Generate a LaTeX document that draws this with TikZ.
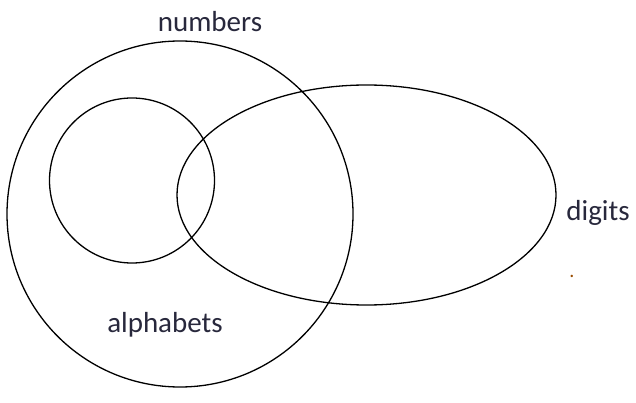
\documentclass[tikz,border=0pt]{standalone}
\usepackage{fontspec}
\setmainfont{Carlito}
\usepackage{tikz}
\usetikzlibrary{shapes.geometric}

\definecolor{labelink}{RGB}{40,40,60}

\tikzset{
	setline/.style = {draw=black, line width=1.3pt, inner sep=0pt},
	setlabel/.style = {text=labelink, font=\fontsize{29}{32}\selectfont, inner sep=0pt}
}

\begin{document}
\begin{tikzpicture}[x=1pt, y=-1pt]
	\useasboundingbox (0,0) rectangle (636,403);

	% the three sets
	\node[setline, circle, minimum size=346pt] (numbers) at (180,214) {};
	\node[setline, circle, minimum size=165pt] (alphabets) at (132,180.5) {};
	\node[setline, ellipse, minimum width=379pt, minimum height=220pt] (digits) at (366.5,195) {};

	% labels
	\node[setlabel] (numberslabel) at (210,22) {numbers};
	\node[setlabel] (digitslabel) at (598,213) {digits};
	\node[setlabel] (alphabetslabel) at (165,325) {alphabets};
	\node[setlabel, text=orange!60!black, font=\fontsize{20}{22}\selectfont] (straydot) at (572,276) {.};
\end{tikzpicture}
\end{document}
